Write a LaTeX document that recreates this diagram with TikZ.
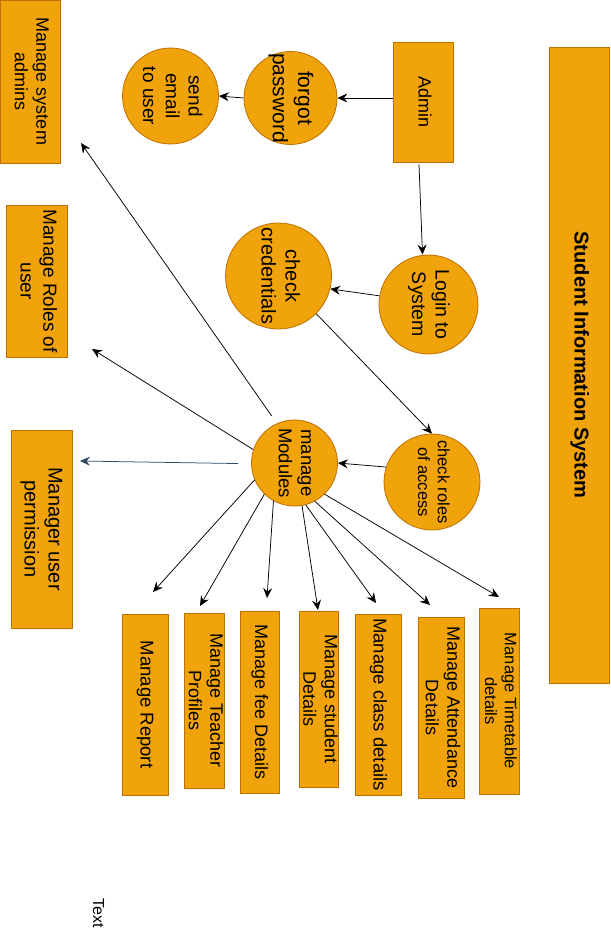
\documentclass[tikz,border=0pt]{standalone}
\usepackage{fontspec}
\setmainfont{Liberation Sans}
\usetikzlibrary{arrows.meta}
\definecolor{orf}{HTML}{F0A30A}
\definecolor{ors}{HTML}{BD7000}
\definecolor{slate}{HTML}{2B4B66}
\newcommand{\rt}[2]{\rotatebox{-90}{\fontsize{#1}{#1}\selectfont\def\arraystretch{1.2}\begin{tabular}{@{}c@{}}#2\end{tabular}}}
\begin{document}
\begin{tikzpicture}[x=1pt,y=-1pt,
  box/.style={draw=ors, fill=orf, line width=0.8pt, inner sep=0pt, rectangle},
  circ/.style={draw=ors, fill=orf, line width=0.8pt, inner sep=0pt, circle},
  lbl/.style={inner sep=0pt, text=black},
  txt/.style={label={[lbl]center:{#1}}},
  arr/.style={line width=0.75pt, -{Stealth[length=10pt,width=9pt,inset=3.5pt]}}]
\useasboundingbox (0,0) rectangle (610,936);

% boxes
\node[box, minimum width=60pt, minimum height=163pt, txt={\rt{18}{Manage system\\admins}}] (sa) at (30,81.5) {};
\node[box, minimum width=61pt, minimum height=152pt, txt={\rt{19}{Manage Roles of\\user}}] (rol) at (36.5,281) {};
\node[box, minimum width=61pt, minimum height=198pt, txt={\rt{20}{Manager user\\permission}}] (perm) at (41.5,529) {};
\node[box, minimum width=60pt, minimum height=120pt, txt={\rt{18}{Admin}}] (adm) at (423,102) {};
\node[box, minimum width=60pt, minimum height=636pt, txt={\rt{20}{\bfseries Student Information System}}] (tit) at (579.5,365) {};

\node[box, minimum width=46pt, minimum height=181pt, txt={\rt{18.5}{Manage Report}}] (rep) at (145,704.5) {};
\node[box, minimum width=40pt, minimum height=175pt, txt={\rt{18}{Manage Teacher\\Profiles}}] (tea) at (204,700.5) {};
\node[box, minimum width=39pt, minimum height=182pt, txt={\rt{18}{Manage fee Details}}] (fee) at (259.5,702) {};
\node[box, minimum width=39pt, minimum height=176pt, txt={\rt{18}{Manage student\\Details}}] (stu) at (318.5,699) {};
\node[box, minimum width=46pt, minimum height=181pt, txt={\rt{18.5}{Manage class details}}] (cla) at (378,704.5) {};
\node[box, minimum width=46pt, minimum height=181pt, txt={\rt{18}{Manage Attendance\\Details}}] (att) at (441,707.5) {};
\node[box, minimum width=40pt, minimum height=186pt, txt={\rt{16.5}{Manage Timetable\\details}}] (tim) at (499,701) {};

% circles
\node[circ, minimum size=96pt, txt={\rt{19}{send\\email\\to user}}] (se) at (170.5,96) {};
\node[circ, minimum size=93pt, txt={\rt{21}{forgot\\password}}] (fp) at (290.5,98) {};
\node[circ, minimum size=99pt, txt={\rt{19.5}{Login to\\System}}] (lg) at (428.5,304.5) {};
\node[circ, minimum size=106pt, txt={\rt{20}{check\\credentials}}] (cc) at (278.5,276) {};
\node[circ, minimum size=86pt, txt={\rt{18.5}{manage\\Modules}}] (mm) at (294.5,463) {};
\node[circ, minimum size=96pt, txt={\rt{16.5}{check roles\\of access}}] (cr) at (432,482) {};

\node[lbl] (tx) at (97,913) {\rt{16}{Text}};

% free arrow ends
\coordinate (tAdm) at (81,143);
\coordinate (tRol) at (92,349);
\coordinate (tPerm) at (80,461);
\coordinate (tRep) at (153,592);
\coordinate (tTea) at (200,606);
\coordinate (tFee) at (267,598);
\coordinate (tStu) at (318,610);
\coordinate (tCla) at (376,603);
\coordinate (tAtt) at (430,605);
\coordinate (tTim) at (499,597);

% connectors
\draw[arr] (adm.west |- fp.east) -- (fp.east);
\draw[arr] (fp.west) -- (se.east);
\draw[arr] ([xshift=-4pt,yshift=-2pt]adm.south) -- ([xshift=-6pt]lg.north);
\draw[arr] (lg.170) -- (cc.346);
\draw[arr] (cc.315) -- (cr.north);
\draw[arr] (cr.162) -- (mm.east);

\draw[arr, shorten <=9pt] (mm.114) -- (tAdm);
\draw[arr] (mm.162) -- (tRol);
\draw[arr, draw=slate, shorten <=13pt] (mm.181) -- (tPerm);
\draw[arr] (mm.203) -- (tRep);
\draw[arr] (mm.226) -- (tTea);
\draw[arr] (mm.241) -- (tFee);
\draw[arr] (mm.280) -- (tStu);
\draw[arr] (mm.285) -- (tCla);
\draw[arr] (mm.298) -- (tAtt);
\draw[arr] (mm.314) -- (tTim);
\end{tikzpicture}
\end{document}
